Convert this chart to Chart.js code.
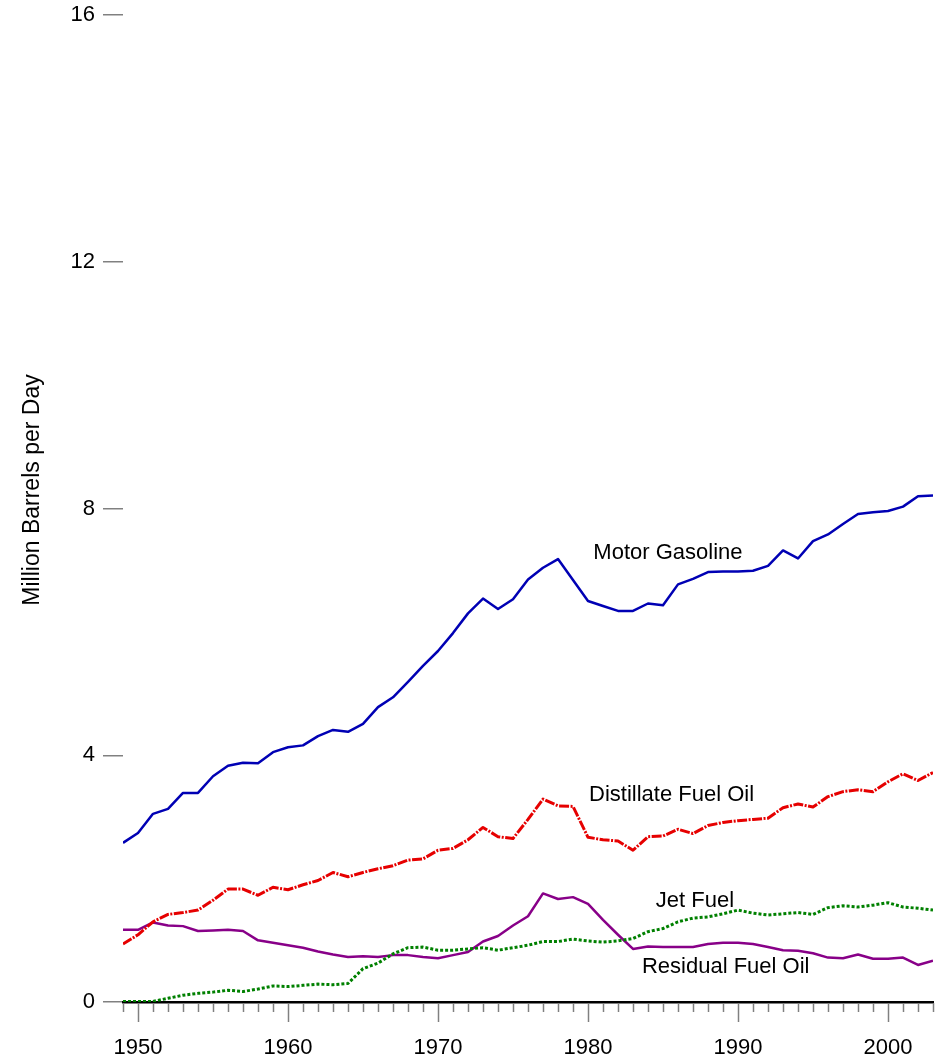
<!DOCTYPE html>
<html>
<head>
<meta charset="utf-8">
<script src="https://cdn.jsdelivr.net/npm/chart.js@4"></script>
<style>
    html, body { margin: 0; padding: 0; background: #fff; }
    #wrap { width: 950px; height: 1062px; position: relative; }
</style>
</head>
<body>
<div id="wrap"><canvas id="fuel-chart"></canvas></div>
<script>
(function () {
    "use strict";

    const years = [];
    for (let y = 1949; y <= 2003; y++) years.push(y);

    const motorGasoline = [
        2.58, 2.74, 3.05, 3.13, 3.39, 3.39, 3.66, 3.83, 3.88, 3.87,
        4.05, 4.13, 4.16, 4.31, 4.41, 4.38, 4.51, 4.78, 4.94, 5.19,
        5.45, 5.69, 5.98, 6.30, 6.54, 6.37, 6.53, 6.85, 7.04, 7.18,
        6.84, 6.50, 6.42, 6.34, 6.34, 6.46, 6.43, 6.77, 6.86, 6.97,
        6.98, 6.98, 6.99, 7.07, 7.32, 7.19, 7.47, 7.58, 7.75, 7.91,
        7.94, 7.96, 8.03, 8.20, 8.21,
    ];
    const distillateFuelOil = [
        0.94, 1.09, 1.30, 1.42, 1.45, 1.49, 1.65, 1.83, 1.83, 1.73,
        1.86, 1.82, 1.90, 1.97, 2.10, 2.03, 2.10, 2.16, 2.21, 2.30,
        2.32, 2.46, 2.49, 2.63, 2.83, 2.68, 2.65, 2.96, 3.29, 3.18,
        3.17, 2.67, 2.63, 2.61, 2.46, 2.68, 2.69, 2.80, 2.73, 2.86,
        2.91, 2.94, 2.96, 2.98, 3.15, 3.21, 3.16, 3.33, 3.41, 3.44,
        3.41, 3.57, 3.70, 3.59, 3.72,
    ];
    const jetFuel = [
        0.01, 0.01, 0.01, 0.06, 0.11, 0.14, 0.16, 0.19, 0.17, 0.21,
        0.26, 0.25, 0.27, 0.29, 0.28, 0.30, 0.54, 0.63, 0.78, 0.88,
        0.89, 0.84, 0.84, 0.86, 0.88, 0.84, 0.88, 0.92, 0.98, 0.98,
        1.02, 0.99, 0.97, 0.99, 1.03, 1.14, 1.19, 1.30, 1.36, 1.38,
        1.43, 1.49, 1.44, 1.41, 1.43, 1.45, 1.42, 1.53, 1.56, 1.54,
        1.57, 1.61, 1.54, 1.52, 1.49,
    ];
    const residualFuelOil = [
        1.17, 1.17, 1.29, 1.24, 1.23, 1.15, 1.16, 1.17, 1.15, 1.00,
        0.96, 0.92, 0.88, 0.82, 0.77, 0.73, 0.74, 0.73, 0.76, 0.76,
        0.73, 0.71, 0.76, 0.81, 0.98, 1.07, 1.24, 1.39, 1.76, 1.67,
        1.70, 1.59, 1.33, 1.09, 0.86, 0.90, 0.89, 0.89, 0.89, 0.94,
        0.96, 0.96, 0.94, 0.89, 0.84, 0.83, 0.79, 0.72, 0.71, 0.77,
        0.70, 0.70, 0.72, 0.60, 0.67,
    ];

    const yTicks = [0, 4, 8, 12, 16];
    const seriesNames = ["Motor Gasoline", "Distillate Fuel Oil", "Jet Fuel", "Residual Fuel Oil"];
    // where each series name sits, in data units (year, value)
    const labelAnchors = [[1985.33, 7.28], [1985.57, 3.36], [1987.13, 1.64], [1989.18, 0.57]];

    const FONT = "'Liberation Sans', Arial, Helvetica, sans-serif";
    const GRAY = "#808080";

    const points = (vals) => years.map((yr, i) => ({ x: yr, y: vals[i] }));

    // year ticks under the axis, longer on decades
    const yearTicks = {
        id: "yearTicks",
        afterDraw(chart) {
            const ctx = chart.ctx, xs = chart.scales.x, base = chart.chartArea.bottom;
            ctx.save();
            ctx.strokeStyle = GRAY;
            ctx.lineWidth = 1.5;
            years.forEach((yr) => {
                const px = Math.round(xs.getPixelForValue(yr)) + 0.5;
                ctx.beginPath();
                ctx.moveTo(px, base + 1);
                ctx.lineTo(px, base + (yr % 10 === 0 ? 20 : 10));
                ctx.stroke();
            });
            ctx.restore();
        },
    };

    // series names beside the lines + y axis title
    const textLabels = {
        id: "textLabels",
        afterDraw(chart) {
            const ctx = chart.ctx, xs = chart.scales.x, ys = chart.scales.y;
            ctx.save();
            ctx.fillStyle = "#000";
            ctx.font = "22px " + FONT;
            ctx.textAlign = "center";
            ctx.textBaseline = "middle";
            seriesNames.forEach((name, i) => {
                ctx.fillText(name, xs.getPixelForValue(labelAnchors[i][0]), ys.getPixelForValue(labelAnchors[i][1]));
            });
            ctx.font = "23px " + FONT;
            ctx.translate(33, 490);
            ctx.rotate(-Math.PI / 2);
            ctx.fillText("Million Barrels per Day", 0, 0);
            ctx.restore();
        },
    };

    new Chart(document.getElementById("fuel-chart"), {
        type: "line",
        data: {
            datasets: [
                {
                    label: seriesNames[0],
                    data: points(motorGasoline),
                    borderColor: "#0000b4",
                    borderWidth: 2.5,
                },
                {
                    label: seriesNames[1],
                    data: points(distillateFuelOil),
                    borderColor: "#e60000",
                    borderWidth: 3,
                    borderDash: [10, 1.5, 2, 1.5],
                },
                {
                    label: seriesNames[2],
                    data: points(jetFuel),
                    borderColor: "#008000",
                    borderWidth: 3,
                    borderDash: [3, 2],
                },
                {
                    label: seriesNames[3],
                    data: points(residualFuelOil),
                    borderColor: "#880088",
                    borderWidth: 2.5,
                },
            ],
        },
        options: {
            responsive: true,
            maintainAspectRatio: false,
            animation: false,
            elements: {
                point: { radius: 0 },
                line: { tension: 0, borderJoinStyle: "round" },
            },
            layout: { padding: { top: 15, right: 17, left: 0, bottom: 0 } },
            plugins: {
                legend: { display: false },
                tooltip: { enabled: false },
            },
            scales: {
                x: {
                    type: "linear",
                    min: 1949,
                    max: 2003,
                    afterFit: (scale) => {
                        scale.height = 60;
                        scale.paddingLeft = 0;
                        scale.paddingRight = 0;
                    },
                    ticks: {
                        stepSize: 1,
                        autoSkip: false,
                        maxRotation: 0,
                        padding: 25,
                        color: "#000",
                        font: { family: FONT, size: 22 },
                        callback: (v) => (v % 10 === 0 ? String(v) : ""),
                    },
                    grid: { display: false },
                    border: { display: true, color: "#000", width: 2.5 },
                },
                y: {
                    min: 0,
                    max: 16,
                    afterFit: (scale) => {
                        scale.width = 123;
                        scale.paddingTop = 0;
                        scale.paddingBottom = 0;
                    },
                    afterBuildTicks: (scale) => {
                        scale.ticks = yTicks.map((v) => ({ value: v }));
                    },
                    ticks: {
                        padding: 8,
                        color: "#000",
                        font: { family: FONT, size: 22 },
                    },
                    grid: {
                        drawOnChartArea: false,
                        tickLength: 20,
                        color: GRAY,
                        lineWidth: 1.5,
                    },
                    border: { display: false },
                },
            },
        },
        plugins: [yearTicks, textLabels],
    });
})();
</script>
</body>
</html>
